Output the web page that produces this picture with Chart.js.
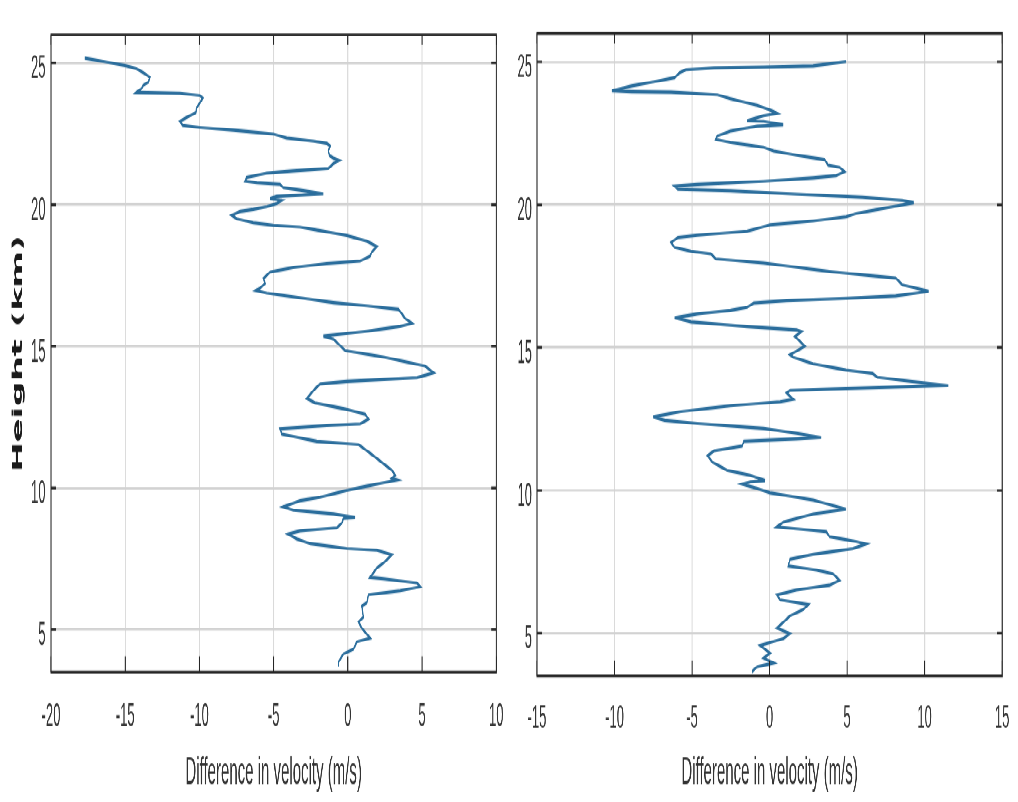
<!DOCTYPE html>
<html>
<head>
<meta charset="utf-8">
<script src="https://cdn.jsdelivr.net/npm/chart.js@4.4.1/dist/chart.umd.min.js"></script>
<style>
  html, body { margin:0; padding:0; background:#ffffff; width:1018px; height:802px; overflow:hidden; }
  #wrap { position:absolute; left:0; top:0; width:1018px; height:308px; transform-origin:0 0; transform:scaleY(2.603896); }
  canvas { position:absolute; top:0; }
</style>
</head>
<body>
<div id="wrap">
  <canvas id="c1" width="516" height="308" style="left:0px"></canvas>
  <canvas id="c2" width="502" height="308" style="left:516px"></canvas>
</div>
<script>
// ---------- data ----------
const xTitle = 'Difference in velocity (m/s)';
const yTitle = 'Height (km)';
const yTicks = [5, 10, 15, 20, 25];
const leftXTicks = [-20, -15, -10, -5, 0, 5, 10];
const rightXTicks = [-15, -10, -5, 0, 5, 10, 15];

const leftHeights = [25.17,24.91,24.80,24.60,24.49,24.32,24.21,24.10,23.96,23.93,23.85,23.76,23.59,23.42,23.25,23.08,22.94,22.80,22.72,22.63,22.49,22.35,22.24,22.16,22.07,21.90,21.73,21.64,21.56,21.45,21.28,21.19,21.11,20.96,20.83,20.77,20.72,20.60,20.51,20.38,20.29,20.21,20.15,20.04,19.93,19.83,19.76,19.62,19.50,19.36,19.27,19.21,19.08,18.91,18.71,18.52,18.33,18.18,18.01,17.92,17.78,17.62,17.39,17.22,17.05,16.97,16.88,16.71,16.54,16.43,16.30,15.98,15.81,15.70,15.53,15.36,15.25,14.96,14.85,14.62,14.30,14.06,13.89,13.76,13.67,13.50,13.16,13.00,12.77,12.60,12.43,12.26,12.20,12.09,11.90,11.64,11.53,11.13,10.85,10.62,10.45,10.34,10.28,10.06,9.91,9.67,9.55,9.33,9.21,9.08,8.96,8.93,8.76,8.59,8.48,8.37,8.20,8.03,7.86,7.80,7.64,7.35,7.18,6.84,6.79,6.64,6.51,6.37,6.23,5.94,5.83,5.44,5.27,5.05,4.70,4.57,4.31,4.14,3.86,3.69];
const leftDiff = [-17.73,-15.02,-14.24,-13.61,-13.34,-13.45,-13.79,-13.90,-14.24,-11.32,-9.97,-9.78,-9.97,-10.19,-10.24,-10.86,-11.32,-11.13,-9.97,-7.72,-5.02,-4.12,-2.32,-1.42,-1.19,-1.31,-1.24,-0.97,-0.57,-0.97,-1.31,-3.67,-5.47,-6.82,-6.93,-6.14,-4.57,-4.35,-3.22,-1.65,-4.79,-5.24,-4.45,-4.79,-5.47,-6.37,-7.27,-7.83,-7.49,-6.37,-5.02,-3.22,-1.87,-0.07,1.28,1.96,1.62,1.50,0.83,-1.42,-3.67,-5.24,-5.69,-5.58,-5.92,-6.19,-5.47,-3.22,-0.97,1.28,3.41,3.87,4.32,3.53,1.28,-1.65,-0.97,-0.40,-0.18,2.40,5.20,5.78,4.66,-0.07,-1.87,-2.21,-2.77,-2.21,-0.07,1.17,1.39,0.83,-1.42,-4.57,-4.45,-2.09,0.72,1.73,2.40,2.97,3.19,2.97,3.31,1.28,-0.07,-1.87,-3.22,-4.35,-3.67,-0.97,0.49,-0.30,-0.40,-0.74,-3.22,-4.01,-3.44,-2.54,-0.07,1.96,2.97,2.40,1.96,1.50,2.40,4.66,4.88,3.53,1.39,1.28,0.94,1.05,0.72,0.94,1.50,0.61,0.38,-0.30,-0.63,-0.63];

const rightHeights = [25.01,24.86,24.82,24.79,24.73,24.62,24.45,24.33,24.16,23.99,23.96,23.94,23.85,23.71,23.48,23.31,23.20,23.12,22.94,22.92,22.80,22.75,22.58,22.41,22.29,22.18,22.01,21.88,21.73,21.58,21.39,21.31,21.16,21.02,20.94,20.82,20.71,20.65,20.54,20.49,20.37,20.26,20.15,20.07,19.95,19.69,19.58,19.43,19.30,19.07,18.93,18.85,18.68,18.51,18.37,18.28,18.11,17.96,17.66,17.43,17.20,16.97,16.81,16.72,16.64,16.56,16.41,16.30,16.18,16.04,15.90,15.73,15.62,15.56,15.39,15.05,14.88,14.75,14.66,14.43,14.21,14.09,13.96,13.81,13.67,13.62,13.55,13.50,13.41,13.19,13.10,12.96,12.76,12.57,12.45,12.34,12.17,12.00,11.85,11.80,11.72,11.55,11.38,11.21,10.98,10.70,10.53,10.34,10.30,10.22,10.07,9.91,9.66,9.34,9.17,8.89,8.72,8.55,8.38,8.21,8.12,7.96,7.76,7.59,7.36,7.21,7.08,6.85,6.68,6.51,6.34,6.17,6.00,5.83,5.61,5.38,5.18,4.98,4.81,4.57,4.30,4.13,3.96,3.82,3.66];
const rightDiff = [4.94,2.81,-0.38,-3.58,-5.39,-5.81,-6.13,-7.20,-8.90,-10.18,-8.90,-6.35,-3.37,-2.52,-0.81,0.04,0.47,-0.38,-1.45,-0.38,0.89,-0.81,-2.52,-3.37,-3.47,-2.52,-0.38,0.26,1.74,3.55,3.77,4.51,4.83,4.30,2.81,-0.38,-4.64,-6.13,-5.92,-2.52,1.74,6.00,8.56,9.30,8.13,5.57,4.94,2.81,0.04,-1.45,-4.64,-5.92,-6.35,-6.13,-5.07,-3.79,-3.47,-0.38,3.87,8.13,8.56,10.26,8.13,4.94,1.10,-1.02,-1.45,-2.52,-4.64,-6.13,-5.07,-1.45,1.74,2.06,1.64,2.27,1.74,1.32,1.53,2.81,4.94,6.64,6.96,9.20,11.53,8.13,3.87,1.32,1.10,1.53,0.68,-2.52,-5.71,-7.52,-6.77,-4.64,-0.38,1.74,3.34,1.74,-1.66,-1.77,-3.58,-4.00,-3.68,-2.73,-1.24,-0.28,-1.24,-1.77,-0.81,0.04,2.81,4.94,2.81,0.89,0.47,3.66,3.87,5.57,6.21,5.36,2.81,1.32,1.21,3.02,4.09,4.51,3.87,1.74,0.47,0.68,2.49,2.17,1.32,0.89,0.47,1.32,0.89,-0.60,0.04,-0.38,0.26,-0.81,-1.13];

// ---------- drawing ----------
const S = 802 / 308;                    // vertical stretch of the reference picture
const AXIS = '#262626';
const TXT = '#333333';
const FONT = 'Liberation Sans, Arial, Helvetica, sans-serif';

function pts(h, v) { return h.map((y, i) => ({ x: v[i], y: y })); }

const boxPlugin = {
  id: 'matlabBox',
  afterDatasetsDraw(chart) {
    const { ctx, chartArea: a, scales } = chart;
    const xs = scales.x, ys = scales.y;
    ctx.save();
    ctx.strokeStyle = AXIS;
    ctx.lineWidth = 1;
    ctx.beginPath();
    xs.ticks.forEach(t => {
      const px = xs.getPixelForValue(t.value);
      ctx.moveTo(px, a.bottom); ctx.lineTo(px, a.bottom - 6);
      ctx.moveTo(px, a.top); ctx.lineTo(px, a.top + 4);
    });
    ys.ticks.forEach(t => {
      const py = ys.getPixelForValue(t.value);
      ctx.moveTo(a.left, py); ctx.lineTo(a.left + 5, py);
      ctx.moveTo(a.right, py); ctx.lineTo(a.right - 5, py);
    });
    ctx.stroke();
    ctx.strokeRect(a.left, a.top, a.right - a.left, a.bottom - a.top);
    ctx.restore();
  }
};

function makeChart(id, heights, diffs, xTicks, o) {
  return new Chart(document.getElementById(id), {
    type: 'scatter',
    data: { datasets: [{
      data: pts(heights, diffs), showLine: true, borderColor: '#2a6d9c',
      borderWidth: 1.2, pointRadius: 0, pointHoverRadius: 0, tension: 0, fill: false
    }]},
    options: {
      responsive: false, animation: false, devicePixelRatio: S,
      events: [],
      layout: { padding: { left: 0, right: o.padR, top: 12 / S, bottom: 0 } },
      plugins: { legend: { display: false }, tooltip: { enabled: false } },
      scales: {
        x: {
          type: 'linear', min: xTicks[0], max: xTicks[xTicks.length - 1],
          afterBuildTicks: s => { s.ticks = xTicks.map(v => ({ value: v })); },
          afterFit: s => { s.height = o.xH; },
          grid: { color: '#dadada', lineWidth: 1, drawTicks: false },
          border: { display: false },
          ticks: { padding: o.xPad, color: TXT, autoSkip: false, maxRotation: 0,
                   font: { family: FONT, size: 13 } },
          title: { display: true, text: xTitle, color: TXT,
                   font: { family: FONT, size: 15 }, padding: { top: 0, bottom: 2.1 } }
        },
        y: {
          type: 'linear', min: 3.5, max: 26,
          afterBuildTicks: s => { s.ticks = yTicks.map(v => ({ value: v })); },
          afterFit: s => { s.width = o.yW; },
          grid: { color: '#d2d2d2', lineWidth: 1, drawTicks: false },
          border: { display: false },
          ticks: { padding: o.yPad, color: TXT, labelOffset: 2.3,
                   font: { family: FONT, size: 13 } },
          title: { display: o.yTitle, text: yTitle, color: '#1a1a1a',
                   font: { family: 'DejaVu Sans, sans-serif', size: 13.5, weight: 'bold' },
                   padding: { top: 10.2, bottom: 0 } }
        }
      }
    },
    plugins: [boxPlugin]
  });
}

makeChart('c1', leftHeights, leftDiff, leftXTicks,
  { padR: 20, xH: 308 - 672 / S, xPad: 9.5, yW: 51, yPad: 5.5, yTitle: true });
makeChart('c2', rightHeights, rightDiff, rightXTicks,
  { padR: 11, xH: 308 - 676 / S, xPad: 8.7, yW: 21, yPad: 5, yTitle: false });
</script>
</body>
</html>
